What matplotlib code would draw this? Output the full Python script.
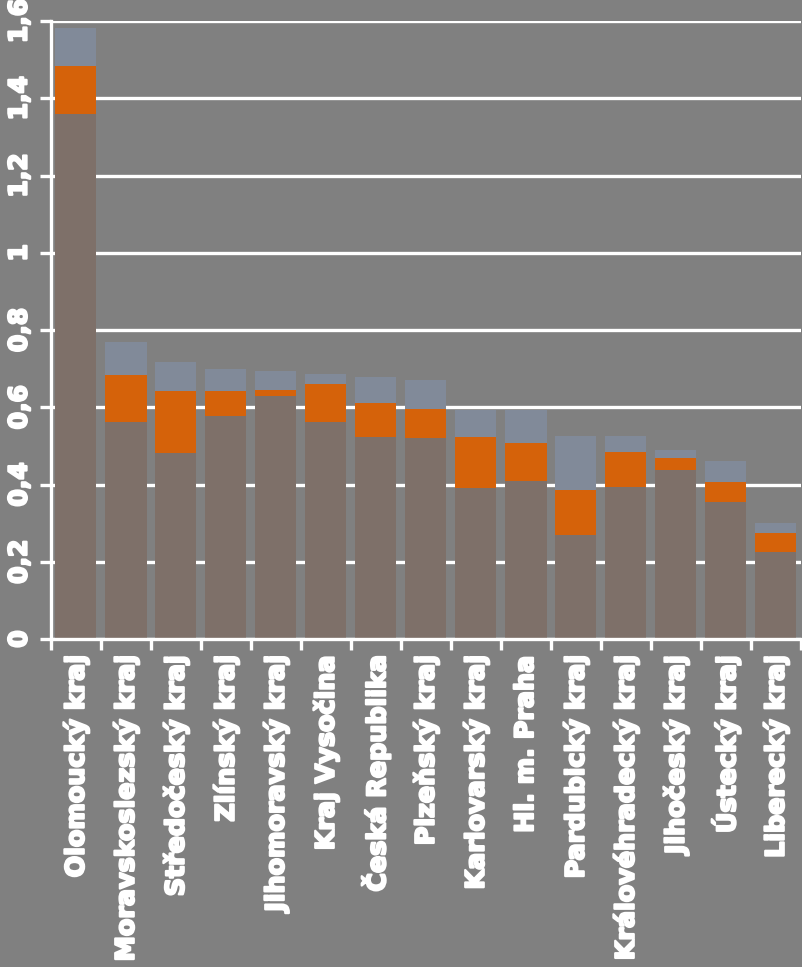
import numpy as np
import matplotlib.pyplot as plt
import matplotlib.patheffects as pe
from matplotlib.ticker import FixedLocator, FuncFormatter

regions = ['Olomoucký kraj', 'Moravskoslezský kraj', 'Středočeský kraj',
           'Zlínský kraj', 'Jihomoravský kraj', 'Kraj Vysočina',
           'Česká Republika', 'Plzeňský kraj', 'Karlovarský kraj',
           'Hl. m. Praha', 'Pardubický kraj', 'Královéhradecký kraj',
           'Jihočeský kraj', 'Ústecký kraj', 'Liberecký kraj']
# stacked pieces
bottom_part = [1.359, 0.561, 0.481, 0.577, 0.630, 0.561, 0.522, 0.521,
               0.392, 0.409, 0.269, 0.394, 0.438, 0.355, 0.226]
middle_part = [0.124, 0.122, 0.161, 0.065, 0.015, 0.099, 0.090, 0.074,
               0.132, 0.099, 0.117, 0.091, 0.031, 0.052, 0.048]
top_part = [0.099, 0.085, 0.076, 0.056, 0.048, 0.026, 0.066, 0.076,
            0.069, 0.085, 0.139, 0.040, 0.020, 0.054, 0.027]
yticks = [0, 0.2, 0.4, 0.6, 0.8, 1, 1.2, 1.4, 1.6]

bg = '#808080'
c_bottom = '#7e7069'
c_mid = '#d5620a'
c_top = '#818a99'

fig = plt.figure(figsize=(8.03, 9.67), dpi=100, facecolor=bg)
ax = fig.add_axes([51 / 803, 1 - 639 / 967, 750 / 803, 618 / 967])
ax.set_facecolor(bg)

x = np.arange(len(regions))
b = np.array(bottom_part)
m = np.array(middle_part)
t = np.array(top_part)
w = 0.82
ax.bar(x, b, width=w, color=c_bottom, zorder=3)
ax.bar(x, m, width=w, bottom=b, color=c_mid, zorder=3)
ax.bar(x, t, width=w, bottom=b + m, color=c_top, zorder=3)

ax.set_xlim(-0.5, len(regions) - 0.5)
ax.set_ylim(0, 1.6)
ax.set_yticks(yticks)
ax.yaxis.set_major_formatter(FuncFormatter(lambda v, p: ('%g' % v).replace('.', ',')))
ax.yaxis.grid(True, color='white', linewidth=2.4, zorder=1)

for s in ['top', 'right']:
    ax.spines[s].set_visible(False)
for s in ['left', 'bottom']:
    ax.spines[s].set_color('white')
    ax.spines[s].set_linewidth(2.4)
    ax.spines[s].set_zorder(4)

thick = [pe.withStroke(linewidth=1.6, foreground='white')]

ax.tick_params(axis='y', colors='white', length=8, width=2.4, pad=6,
               labelsize=18)
for lbl in ax.get_yticklabels():
    lbl.set_rotation(90)
    lbl.set_va('center')
    lbl.set_fontweight('bold')
    lbl.set_path_effects(thick)

ax.set_xticks(x)
ax.set_xticklabels(regions, rotation=90, fontsize=18.3, fontweight='bold',
                   color='white', va='top', ha='center')
for lbl in ax.get_xticklabels():
    lbl.set_path_effects(thick)
ax.xaxis.set_minor_locator(FixedLocator(np.arange(-0.5, len(regions), 1)))
ax.tick_params(axis='x', which='major', length=0, pad=12)
ax.tick_params(axis='x', which='minor', length=8, width=2.4, color='white')

fig.savefig('out.png', dpi=100, facecolor=bg)
